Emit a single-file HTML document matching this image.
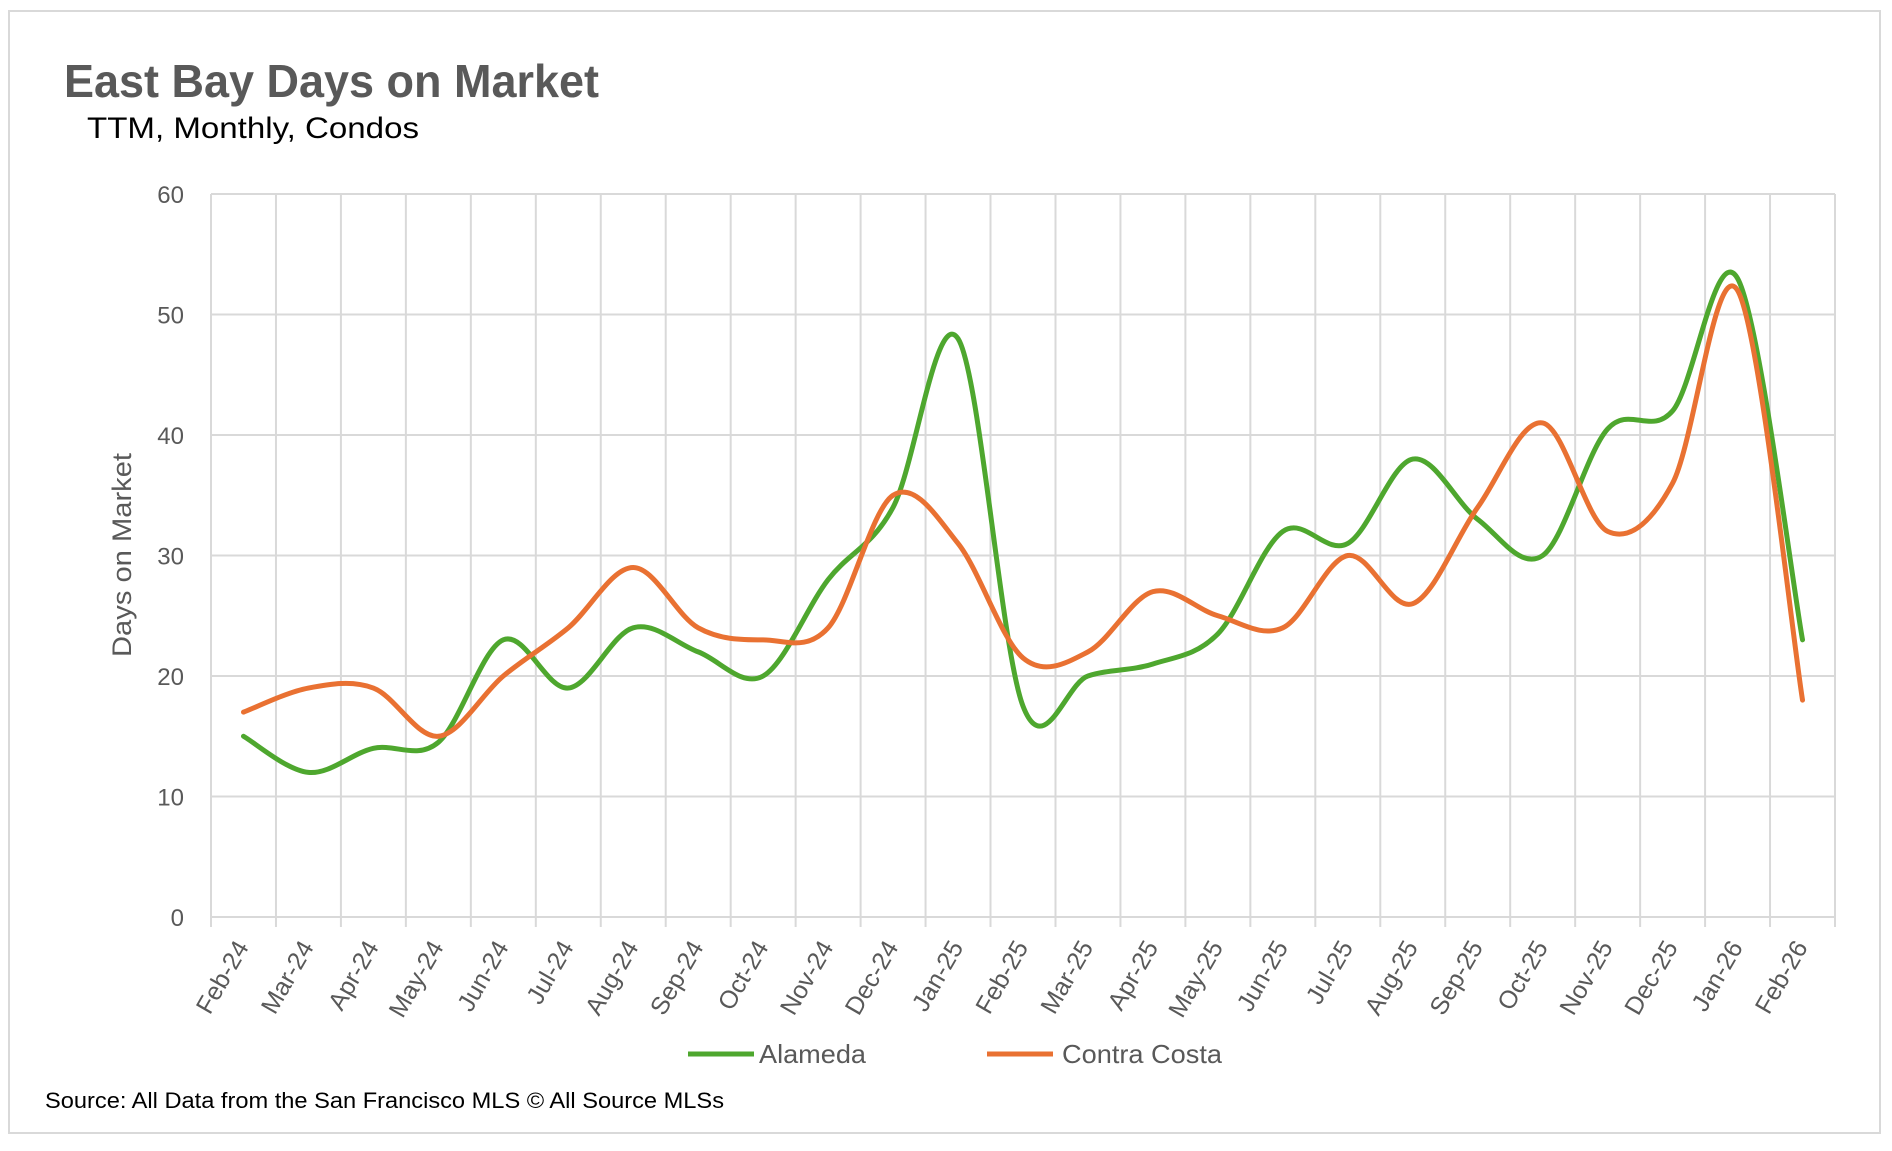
<!DOCTYPE html>
<html><head><meta charset="utf-8"><style>
body{margin:0;background:#fff;}
svg text{font-family:"Liberation Sans",sans-serif;}
</style></head><body>
<svg id="chart" width="1892" height="1146" xmlns="http://www.w3.org/2000/svg">
<rect x="9" y="11" width="1871" height="1122" fill="#fff" stroke="#d9d9d9" stroke-width="2"/>
<text x="64" y="97" font-size="46" font-weight="bold" fill="#595959" textLength="535" lengthAdjust="spacingAndGlyphs">East Bay Days on Market</text>
<text x="87" y="138" font-size="30" fill="#000" textLength="332" lengthAdjust="spacingAndGlyphs">TTM, Monthly, Condos</text>
<g id="grid"></g>
<g id="series"></g>
<text transform="translate(131,555) rotate(-90)" text-anchor="middle" font-size="27" fill="#595959" textLength="204" lengthAdjust="spacingAndGlyphs">Days on Market</text>
<line x1="688" y1="1054" x2="754" y2="1054" stroke="#4ea72e" stroke-width="5"/>
<text x="759" y="1063" font-size="26" fill="#595959" textLength="107" lengthAdjust="spacingAndGlyphs">Alameda</text>
<line x1="987" y1="1054" x2="1053" y2="1054" stroke="#e97132" stroke-width="5"/>
<text x="1062" y="1063" font-size="26" fill="#595959" textLength="160" lengthAdjust="spacingAndGlyphs">Contra Costa</text>
<text x="45" y="1108" font-size="22" fill="#000" textLength="679" lengthAdjust="spacingAndGlyphs">Source: All Data from the San Francisco MLS © All Source MLSs</text>
</svg>
<script>
const categories=["Feb-24","Mar-24","Apr-24","May-24","Jun-24","Jul-24","Aug-24","Sep-24","Oct-24","Nov-24","Dec-24","Jan-25","Feb-25","Mar-25","Apr-25","May-25","Jun-25","Jul-25","Aug-25","Sep-25","Oct-25","Nov-25","Dec-25","Jan-26","Feb-26"];
const alameda=[15,12,14,14.5,23,19,24,22,20,28,34,48,17.5,20,21,23.5,32,31,38,33,30,40.5,42,53,23];
const contraCosta=[17,19,19,15,20,24,29,24,23,24,35,31,21.5,22,27,25,24,30,26,34,41,32,36,52,18];
const yTicks=[0,10,20,30,40,50,60];
const NS="http://www.w3.org/2000/svg";
const L=211,R=1835,T=194,B=917,yMax=60;
const bw=(R-L)/categories.length;
const xS=i=>L+bw*(i+0.5);
const yS=v=>B-(v/yMax)*(B-T);
const grid=document.getElementById('grid'),ser=document.getElementById('series');
function mk(tag,attrs,parent){const e=document.createElementNS(NS,tag);for(const k in attrs)e.setAttribute(k,attrs[k]);parent.appendChild(e);return e;}
yTicks.forEach(t=>{
  const l=mk('line',{x1:L,x2:R,y1:yS(t),y2:yS(t),stroke:'#d9d9d9','stroke-width':2},grid);
  
  
  const tx=mk('text',{x:184,y:yS(t)+9,'text-anchor':'end','font-size':24,fill:'#595959'},grid);
  tx.textContent=t;
  
  
});
for(let i=0;i<=categories.length;i++){
  const x=L+bw*i;
  const l=mk('line',{x1:x,x2:x,y1:T,y2:B+10,stroke:'#d9d9d9','stroke-width':2},grid);
  
  
}
categories.forEach((c,i)=>{
  const x=xS(i)+6,y=947;
  const tx=mk('text',{x:x,y:y,'text-anchor':'end','font-size':25,fill:'#595959',transform:`rotate(-60 ${x} ${y})`},grid);
  tx.textContent=c;
  
  
});
function path(vals){
  const p=vals.map((v,i)=>[xS(i),yS(v)]);
  let d=`M${p[0][0]},${p[0][1]}`;
  for(let i=0;i<p.length-1;i++){
    const p0=p[i-1]||p[i],p1=p[i],p2=p[i+1],p3=p[i+2]||p[i+1];
    const c1=[p1[0]+(p2[0]-p0[0])/6,p1[1]+(p2[1]-p0[1])/6];
    const c2=[p2[0]-(p3[0]-p1[0])/6,p2[1]-(p3[1]-p1[1])/6];
    d+=` C${c1[0]},${c1[1]} ${c2[0]},${c2[1]} ${p2[0]},${p2[1]}`;
  }
  return d;
}
const g=mk('path',{d:path(alameda),fill:'none',stroke:'#4ea72e','stroke-width':5,'stroke-linecap':'round'},ser);


const o=mk('path',{d:path(contraCosta),fill:'none',stroke:'#e97132','stroke-width':5,'stroke-linecap':'round'},ser);


</script>
</body></html>
